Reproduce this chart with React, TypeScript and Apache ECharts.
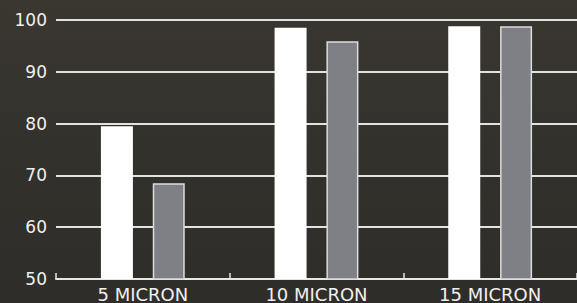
import React, { useEffect, useRef } from "react";
import * as echarts from "echarts";

const categories = ["5 MICRON", "10 MICRON", "15 MICRON"];
const whiteValues = [79.5, 98.5, 98.8];
const grayValues = [68.5, 95.9, 98.8];
const yMin = 50;
const yMax = 100;
const yInterval = 10;

export default function App() {
  const ref = useRef<HTMLDivElement>(null);
  useEffect(() => {
    if (!ref.current) return;
    const chart = echarts.init(ref.current, null, { renderer: "svg" });
    const font = "'DejaVu Sans ExtraLight', 'DejaVu Sans', sans-serif";
    chart.setOption({
      animation: false,
      backgroundColor: {
        type: "linear",
        x: 0,
        y: 0,
        x2: 0,
        y2: 1,
        colorStops: [
          { offset: 0, color: "#3a3731" },
          { offset: 0.5, color: "#33312c" },
          { offset: 1, color: "#2e2d29" },
        ],
      },
      grid: { left: 56, right: 0, top: 20, bottom: 24, containLabel: false },
      xAxis: {
        type: "category",
        data: categories,
        axisLine: { show: true, lineStyle: { color: "#e6e6e6", width: 2 } },
        axisTick: { show: true, inside: true, length: 6, lineStyle: { color: "#e6e6e6", width: 1.5 } },
        axisLabel: { color: "#f0f0f0", fontSize: 18, fontFamily: font, margin: 6 },
      },
      yAxis: {
        type: "value",
        min: yMin,
        max: yMax,
        interval: yInterval,
        axisLine: { show: false },
        axisTick: { show: false },
        axisLabel: { color: "#f0f0f0", fontSize: 17, fontFamily: font, margin: 9 },
        splitLine: { show: true, lineStyle: { color: "#e2e2e2", width: 2 } },
      },
      series: [
        {
          type: "bar",
          data: whiteValues,
          barWidth: 32,
          barGap: "62%",
          itemStyle: { color: "#ffffff" },
        },
        {
          type: "bar",
          data: grayValues,
          barWidth: 32,
          itemStyle: { color: "#7f8085", borderColor: "#dcdcdc", borderWidth: 1.5 },
        },
      ],
    });
    return () => chart.dispose();
  }, []);
  return (
    <div
      ref={ref}
      style={{ position: "fixed", left: 0, top: 0, width: 577, height: 303 }}
    />
  );
}
